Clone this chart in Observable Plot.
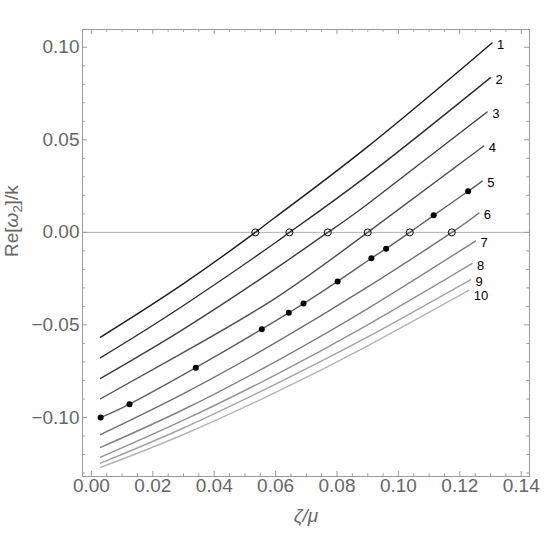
<!DOCTYPE html>
<html>
<head>
<meta charset="utf-8">
<script src="https://cdn.jsdelivr.net/npm/d3@7"></script>
<script src="https://cdn.jsdelivr.net/npm/@observablehq/plot@0.6"></script>
<style>
  html, body { margin: 0; padding: 0; background: #fff; }
  #chart { width: 560px; height: 534px; }
</style>
</head>
<body>
<div id="chart"></div>
<script>
// ---- data ----
const curveLabels = ["1", "2", "3", "4", "5", "6", "7", "8", "9", "10"];

const curveZeta = [
  [0.003, 0.03, 0.0534, 0.06, 0.09, 0.1305],
  [0.003, 0.03, 0.06, 0.0645, 0.09, 0.130],
  [0.003, 0.03, 0.06, 0.077, 0.09, 0.1289],
  [0.003, 0.03, 0.06, 0.09, 0.1278],
  [0.003, 0.0124, 0.034, 0.0555, 0.0643, 0.0691, 0.0802, 0.0912, 0.096, 0.1037, 0.1115, 0.1227, 0.1273],
  [0.003, 0.03, 0.06, 0.09, 0.1174, 0.1262],
  [0.003, 0.03, 0.06, 0.09, 0.1251],
  [0.003, 0.03, 0.06, 0.09, 0.124],
  [0.003, 0.03, 0.06, 0.09, 0.1235],
  [0.003, 0.03, 0.06, 0.09, 0.1229]
];

const curveRe = [
  [-0.0566, -0.0277, 0, 0.0083, 0.0463, 0.1023],
  [-0.0677, -0.0395, -0.0055, 0, 0.0308, 0.0836],
  [-0.0789, -0.0523, -0.0196, 0, 0.0153, 0.065],
  [-0.0899, -0.0648, -0.0355, 0, 0.0467],
  [-0.1000, -0.0928, -0.0731, -0.0523, -0.0434, -0.0385, -0.0265, -0.0140, -0.0088, 0, 0.0092, 0.0222, 0.0277],
  [-0.1092, -0.0871, -0.0596, -0.0295, 0, 0.0105],
  [-0.1162, -0.0957, -0.0698, -0.0412, -0.0047],
  [-0.1215, -0.1015, -0.0770, -0.0500, -0.0169],
  [-0.1247, -0.1057, -0.0820, -0.0565, -0.0256],
  [-0.1270, -0.1092, -0.0865, -0.0613, -0.0314]
];

// filled markers on curve 5
const dotZeta = [0.003, 0.0124, 0.034, 0.0555, 0.0643, 0.0691, 0.0802, 0.0912, 0.096, 0.1115, 0.1227];
const dotRe   = [-0.1000, -0.0928, -0.0731, -0.0523, -0.0434, -0.0385, -0.0265, -0.0140, -0.0088, 0.0092, 0.0222];

// open markers where curves 1-6 cross zero
const crossZeta = [0.0534, 0.0645, 0.077, 0.090, 0.1037, 0.1174];
const crossRe   = [0, 0, 0, 0, 0, 0];

const xTickValues = [0, 0.02, 0.04, 0.06, 0.08, 0.10, 0.12, 0.14];
const yTickValues = [-0.10, -0.05, 0, 0.05, 0.10];

// ---- derived tables ----
const curveRows = curveLabels.flatMap((label, i) =>
  curveZeta[i].map((x, j) => ({label, x, y: curveRe[i][j]})));
const curveEnds = curveLabels.map((label, i) => ({
  label,
  x: curveZeta[i][curveZeta[i].length - 1],
  y: curveRe[i][curveRe[i].length - 1]
}));
const dots = dotZeta.map((x, i) => ({x, y: dotRe[i]}));
const crosses = crossZeta.map((x, i) => ({x, y: crossRe[i]}));

const xMinor = d3.range(0, 29).map(i => +(i * 0.005).toFixed(3)).filter(v => !xTickValues.some(t => Math.abs(t - v) < 1e-9));
const yMinor = d3.range(-13, 11).map(i => +(i * 0.01).toFixed(2)).filter(v => !yTickValues.some(t => Math.abs(t - v) < 1e-9));

const W = 560, H = 534;
const mL = 82, mR = 31, mT = 29, mB = 58;
const fw = W - mL - mR, fh = H - mT - mB;
const majorLen = 5, minorLen = 2.7;
const axisGray = "#9a9a9a";
const labelGray = "#666666";
const fmt = d3.format(".2f");

const grays = d3.quantize(d3.interpolateRgb("#1c1c1c", "#b4b4b4"), curveLabels.length);

const chart = Plot.plot({
  width: W,
  height: H,
  marginLeft: mL,
  marginRight: mR,
  marginTop: mT,
  marginBottom: mB,
  style: {fontFamily: "'Liberation Sans', Arial, sans-serif", background: "#fff"},
  x: {domain: [-0.0029, 0.1427], axis: null},
  y: {domain: [-0.1319, 0.1096], axis: null},
  color: {domain: curveLabels, range: grays},
  marks: [
    Plot.ruleY([0], {stroke: "#b0b0b0", strokeWidth: 1}),
    // ticks (inward, on all four sides)
    Plot.tickX(xTickValues, {x: d => d, stroke: axisGray, insetTop: fh - majorLen}),
    Plot.tickX(xTickValues, {x: d => d, stroke: axisGray, insetBottom: fh - majorLen}),
    Plot.tickX(xMinor, {x: d => d, stroke: axisGray, insetTop: fh - minorLen}),
    Plot.tickX(xMinor, {x: d => d, stroke: axisGray, insetBottom: fh - minorLen}),
    Plot.tickY(yTickValues, {y: d => d, stroke: axisGray, insetRight: fw - majorLen}),
    Plot.tickY(yTickValues, {y: d => d, stroke: axisGray, insetLeft: fw - majorLen}),
    Plot.tickY(yMinor, {y: d => d, stroke: axisGray, insetRight: fw - minorLen}),
    Plot.tickY(yMinor, {y: d => d, stroke: axisGray, insetLeft: fw - minorLen}),
    Plot.frame({stroke: axisGray}),
    // tick labels
    Plot.text(xTickValues, {x: d => d, frameAnchor: "bottom", dy: 15, text: d => fmt(d), fontSize: 19, fill: labelGray}),
    Plot.text(yTickValues, {y: d => d, frameAnchor: "left", dx: -3, textAnchor: "end", text: d => fmt(d), fontSize: 19, fill: labelGray}),
    // axis titles
    Plot.text(["ζ/μ"], {frameAnchor: "bottom", dy: 45, text: d => d, fontSize: 19, fontStyle: "italic", fill: labelGray}),
    Plot.text(["Re[ω2]/k"], {frameAnchor: "left", dx: -71, dy: 4, rotate: -90, text: d => d, fontSize: 19, fill: labelGray}),
    // curves
    Plot.line(curveRows, {x: "x", y: "y", z: "label", stroke: "label", curve: "natural", strokeWidth: 1.4}),
    Plot.dot(crosses, {x: "x", y: "y", r: 3.5, stroke: "#000", fill: "none", strokeWidth: 1}),
    Plot.dot(dots, {x: "x", y: "y", r: 3, fill: "#000", stroke: "none"}),
    Plot.text(curveEnds.filter(d => d.label !== "10"), {x: "x", y: "y", text: "label", dx: 5, dy: 2, textAnchor: "start", fontSize: 13, fill: "#000"}),
    Plot.text(curveEnds.filter(d => d.label === "10"), {x: "x", y: "y", text: "label", dx: 5, dy: 5, textAnchor: "start", fontSize: 13, fill: "#000"})
  ]
});

// style the y-axis title with italic omega and subscript 2
const yl = Array.from(chart.querySelectorAll("text")).find(t => t.textContent === "Re[ω2]/k");
if (yl) {
  yl.textContent = "";
  const ns = "http://www.w3.org/2000/svg";
  const parts = [["Re[", {}], ["ω", {"font-style": "italic"}], ["2", {"font-size": "13", "dy": "4"}], ["]/k", {"dy": "-4"}]];
  for (const [t, attrs] of parts) {
    const ts = document.createElementNS(ns, "tspan");
    for (const k in attrs) ts.setAttribute(k, attrs[k]);
    ts.textContent = t;
    yl.appendChild(ts);
  }
}

document.getElementById("chart").appendChild(chart);
</script>
</body>
</html>
